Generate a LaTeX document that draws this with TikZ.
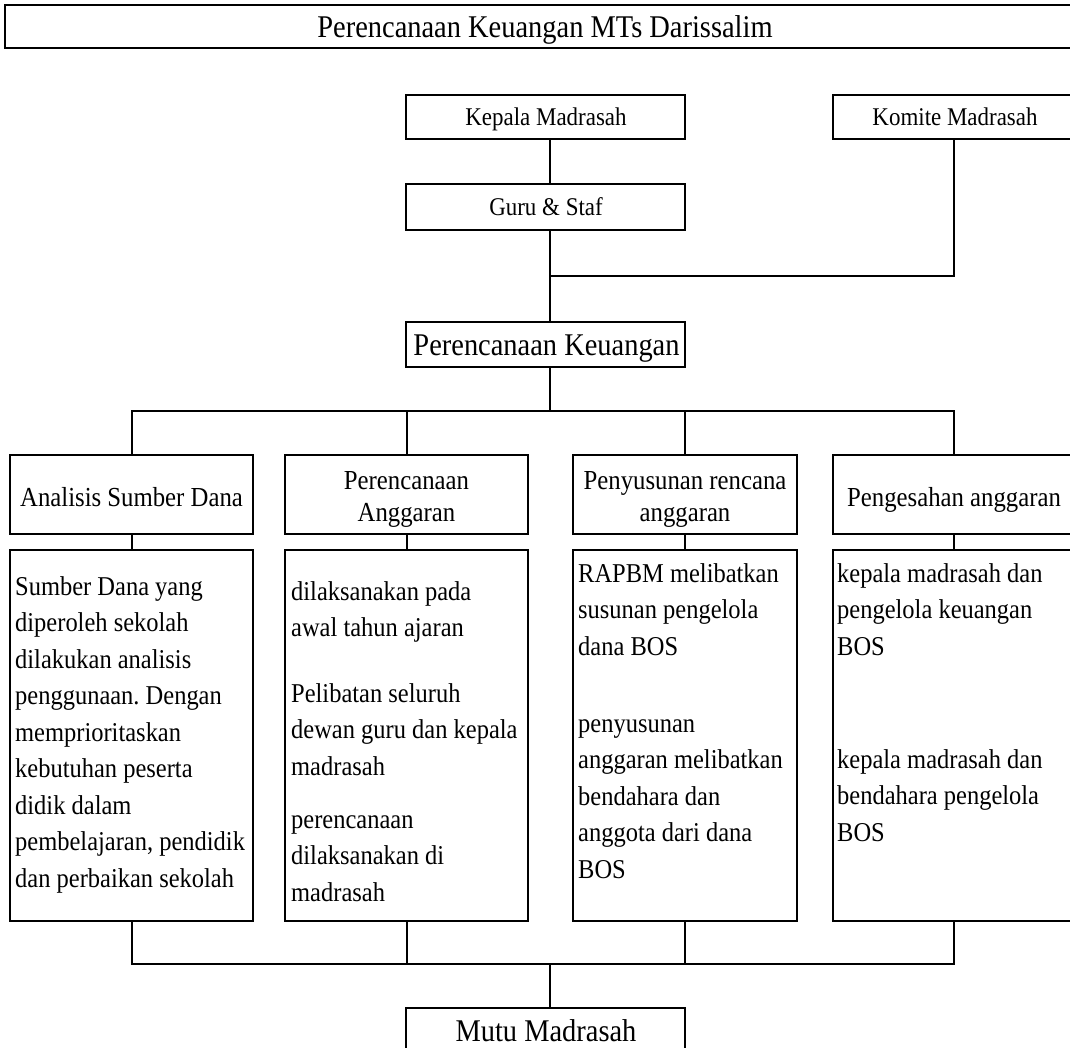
\documentclass[tikz,border=0pt]{standalone}
\usepackage{fontspec}
\setmainfont{Liberation Serif}[FakeStretch=0.9]
\frenchspacing
\begin{document}
\begin{tikzpicture}[x=1pt,y=-1pt,
  box/.style={draw, line width=2.7pt, inner sep=0pt, outer sep=0pt},
  link/.style={line width=2pt, line cap=rect},
  lbl/.style={inner sep=0pt, anchor=base},
  txt/.style={inner sep=0pt, anchor=base west, align=flush left, text width=240pt},
  big/.style={font=\fontsize{31.6}{34}\selectfont},
  mid/.style={font=\fontsize{25.5}{28}\selectfont},
  hd/.style={font=\fontsize{27.5}{32.5}\selectfont, align=center},
  body/.style={font=\fontsize{27.2}{36.5}\selectfont}]
\useasboundingbox[fill=white] (0,0) rectangle (1070,1047);

% boxes
\node[box, minimum width=1080pt, minimum height=43pt] (title) at (545,26.5) {};
\node[box, minimum width=279pt, minimum height=44pt] (kep) at (545.5,117) {};
\node[box, minimum width=242pt, minimum height=44pt] (kom) at (954,117) {};
\node[box, minimum width=279pt, minimum height=46pt] (guru) at (545.5,207) {};
\node[box, minimum width=279pt, minimum height=45pt] (pk) at (545.5,344.5) {};
\node[box, minimum width=243pt, minimum height=79pt] (a) at (131.5,494.5) {};
\node[box, minimum width=243pt, minimum height=79pt] (b) at (406.5,494.5) {};
\node[box, minimum width=224pt, minimum height=79pt] (c) at (685,494.5) {};
\node[box, minimum width=242pt, minimum height=79pt] (d) at (954,494.5) {};
\node[box, minimum width=243pt, minimum height=371pt] (da) at (131.5,735.5) {};
\node[box, minimum width=243pt, minimum height=371pt] (db) at (406.5,735.5) {};
\node[box, minimum width=224pt, minimum height=371pt] (dc) at (685,735.5) {};
\node[box, minimum width=242pt, minimum height=371pt] (dd) at (954,735.5) {};
\node[box, minimum width=279pt, minimum height=45pt] (mutu) at (545.5,1030.5) {};

% labels
\node[lbl, big] (ttitle) at (545,37) {Perencanaan Keuangan MTs Darissalim};
\node[lbl, mid] (tkep) at (546,125) {Kepala Madrasah};
\node[lbl, mid] (tkom) at (955,125) {Komite Madrasah};
\node[lbl, mid] (tguru) at (546,215) {Guru \& Staf};
\node[lbl, big] (tpk) at (546.5,355) {Perencanaan Keuangan};
\node[lbl, big] (tmutu) at (546,1041) {Mutu Madrasah};

\node[lbl, hd] (ta) at (131.5,506) {Analisis Sumber Dana};
\node[lbl, hd] (tb1) at (406.5,489) {Perencanaan};
\node[lbl, hd] (tb2) at (406.5,521.5) {Anggaran};
\node[lbl, hd] (tc1) at (685,489) {Penyusunan rencana};
\node[lbl, hd] (tc2) at (685,521.5) {anggaran};
\node[lbl, hd] (td) at (954,506) {Pengesahan anggaran};

\node[txt, body] (pa) at (15,595) {Sumber Dana yang\\diperoleh sekolah\\dilakukan analisis\\penggunaan. Dengan\\memprioritaskan\\kebutuhan peserta\\didik dalam\\pembelajaran, pendidik\\dan perbaikan sekolah};
\node[txt, body] (pb1) at (291,600) {dilaksanakan pada\\awal tahun ajaran};
\node[txt, body] (pb2) at (291,702) {Pelibatan seluruh\\dewan guru dan kepala\\madrasah};
\node[txt, body] (pb3) at (291,828) {perencanaan\\dilaksanakan di\\madrasah};
\node[txt, body] (pc1) at (578,582) {RAPBM melibatkan\\susunan pengelola\\dana BOS};
\node[txt, body] (pc2) at (578,732) {penyusunan\\anggaran melibatkan\\bendahara dan\\anggota dari dana\\BOS};
\node[txt, body] (pd1) at (837,582) {kepala madrasah dan\\pengelola keuangan\\BOS};
\node[txt, body] (pd2) at (837,768) {kepala madrasah dan\\bendahara pengelola\\BOS};

% connectors
\coordinate (cx) at (550,0);
\coordinate (j1) at (550,276);
\coordinate (busL) at (131.5,411);
\coordinate (busR) at (954,411);
\coordinate (botL) at (131.5,964);
\coordinate (botR) at (954,964);

\draw[link] (kep.south -| cx) -- (guru.north -| cx);
\draw[link] (guru.south -| cx) -- (pk.north -| cx);
\draw[link] (kom.south) |- (j1);
\draw[link] (pk.south -| cx) -- (cx |- busL);
\draw[link] (busL) -- (busR);
\foreach \n in {a,b,c,d}{
  \draw[link] (\n.north) -- (\n.north |- busL);
  \draw[link] (\n.south) -- (d\n.north);
  \draw[link] (d\n.south) -- (d\n.south |- botL);
}
\draw[link] (botL) -- (botR);
\draw[link] (cx |- botL) -- (mutu.north -| cx);
\end{tikzpicture}
\end{document}
